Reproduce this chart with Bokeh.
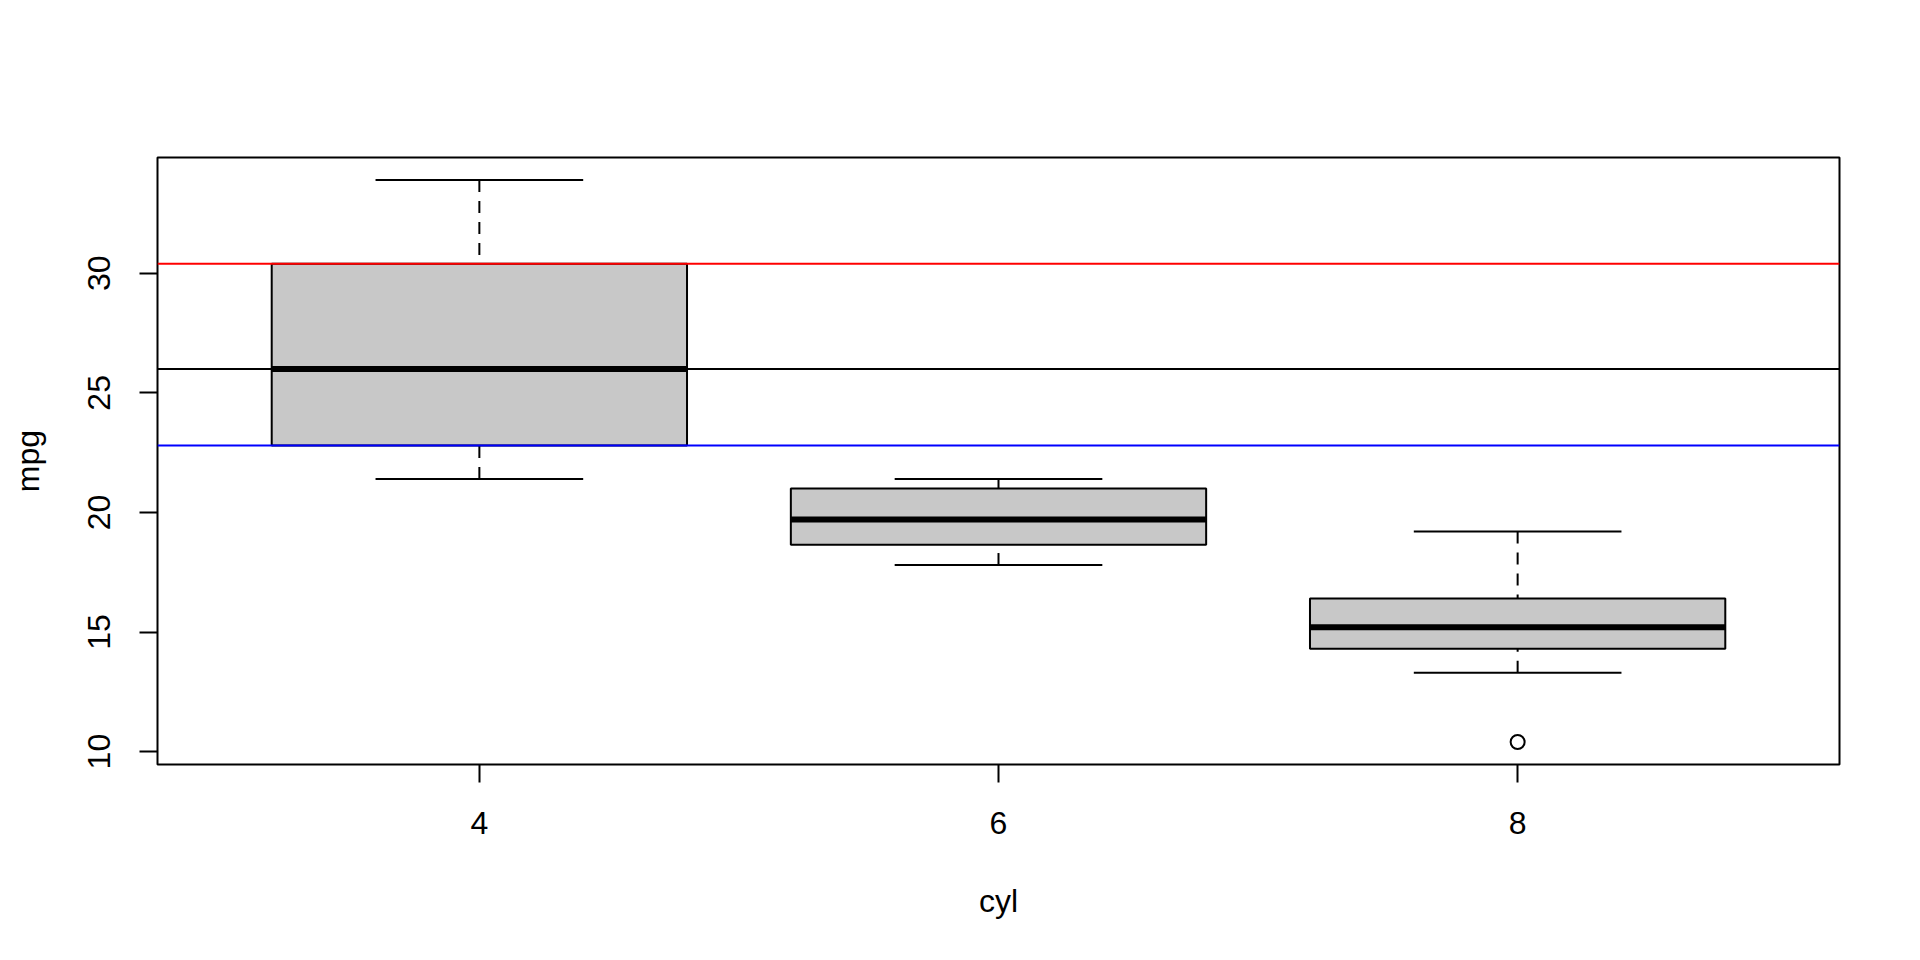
import math
from bokeh.plotting import figure
from bokeh.models import Range1d, FixedTicker, Span, ColumnDataSource
from bokeh.embed import file_html
from bokeh.resources import INLINE

# ---- data (mtcars: mpg by cyl) ----
cyl_labels = ["4", "6", "8"]
whisker_low = [21.4, 17.8, 13.3]
hinge_low = [22.8, 18.65, 14.3]
medians = [26.0, 19.7, 15.2]
hinge_high = [30.4, 21.0, 16.4]
whisker_high = [33.9, 21.4, 19.2]
outlier_group = [3]
outlier_value = [10.4]
y_ticks = [10, 15, 20, 25, 30]
hline_values = [30.4, 26.0, 22.8]
hline_colors = ["#FF0000", "#000000", "#0000FF"]

positions = [i + 1 for i in range(len(cyl_labels))]
half_box = 0.4
half_cap = 0.2

src = ColumnDataSource(dict(
    x=positions,
    left=[p - half_box for p in positions],
    right=[p + half_box for p in positions],
    cap_l=[p - half_cap for p in positions],
    cap_r=[p + half_cap for p in positions],
    wlo=whisker_low, q1=hinge_low, med=medians, q3=hinge_high, whi=whisker_high,
))

FONT = "Liberation Sans"

p = figure(
    frame_width=1682, frame_height=607,
    x_range=Range1d(0.38, 3.62), y_range=Range1d(9.46, 34.84),
    output_backend="svg", toolbar_location=None,
    min_border_left=157, min_border_top=157, min_border_right=60, min_border_bottom=180,
    background_fill_color="white", border_fill_color="white",
)
p.grid.visible = False
p.outline_line_color = "black"
p.outline_line_width = 2

# whiskers (dashed), drawn from whisker end to hinge
p.segment(x0="x", y0="whi", x1="x", y1="q3", source=src, line_color="black",
          line_width=2, line_dash="12 9")
p.segment(x0="x", y0="wlo", x1="x", y1="q1", source=src, line_color="black",
          line_width=2, line_dash="12 9")
# staples
p.segment(x0="cap_l", y0="whi", x1="cap_r", y1="whi", source=src, line_color="black", line_width=2)
p.segment(x0="cap_l", y0="wlo", x1="cap_r", y1="wlo", source=src, line_color="black", line_width=2)
# boxes
p.quad(left="left", right="right", bottom="q1", top="q3", source=src,
       fill_color="#C8C8C8", line_color="black", line_width=2)
# medians
p.segment(x0="left", y0="med", x1="right", y1="med", source=src, line_color="black",
          line_width=6, line_cap="butt")
# outliers
p.scatter(x=outlier_group, y=outlier_value, marker="circle", size=14,
          fill_color=None, line_color="black", line_width=2)

# reference lines
for v, c in zip(hline_values, hline_colors):
    p.add_layout(Span(location=v, dimension="width", line_color=c, line_width=2))

# axes
xa = p.xaxis[0]
xa.ticker = FixedTicker(ticks=positions)
xa.major_label_overrides = {pos: lab for pos, lab in zip(positions, cyl_labels)}
xa.axis_label = "cyl"
ya = p.yaxis[0]
ya.ticker = FixedTicker(ticks=y_ticks)
ya.axis_label = "mpg"
ya.major_label_orientation = "parallel"

for ax in (xa, ya):
    ax.axis_line_color = None
    ax.major_tick_in = 0
    ax.major_tick_out = 18
    ax.major_tick_line_width = 2
    ax.major_tick_line_color = "black"
    ax.minor_tick_line_color = None
    ax.major_label_text_font = FONT
    ax.major_label_text_font_size = "32px"
    ax.major_label_text_color = "black"
    ax.axis_label_text_font = FONT
    ax.axis_label_text_font_size = "32px"
    ax.axis_label_text_font_style = "normal"
    ax.axis_label_text_color = "black"

xa.major_label_standoff = 29
xa.axis_label_standoff = 46
ya.major_label_standoff = 29
ya.axis_label_standoff = 40

open("out.html", "w").write(file_html(p, INLINE))
